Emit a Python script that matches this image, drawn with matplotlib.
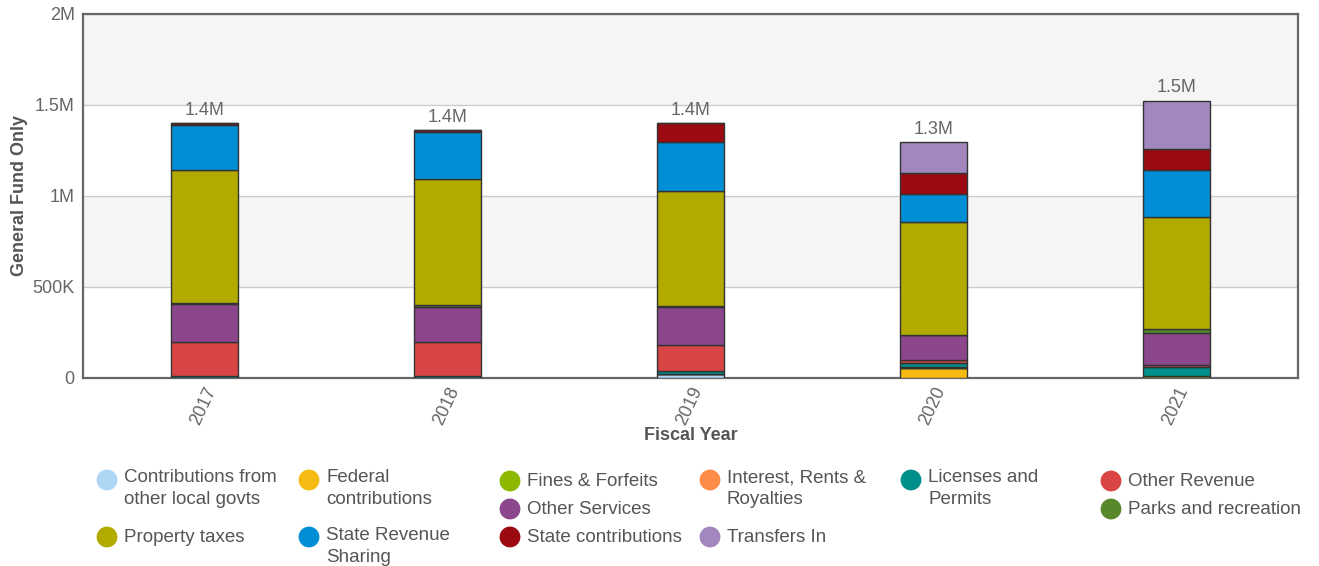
import matplotlib
matplotlib.use("Agg")
import matplotlib.pyplot as plt
import numpy as np

plt.rcParams["font.family"] = ["Liberation Sans", "DejaVu Sans"]

# ---- data -------------------------------------------------------------
years = ["2017", "2018", "2019", "2020", "2021"]

categories = [
    "Contributions from other local govts",
    "Federal contributions",
    "Fines & Forfeits",
    "Interest, Rents & Royalties",
    "Licenses and Permits",
    "Other Revenue",
    "Other Services",
    "Parks and recreation",
    "Property taxes",
    "State Revenue Sharing",
    "State contributions",
    "Transfers In",
]

colors = [
    "#aed6f5",  # Contributions from other local govts
    "#f6bb12",  # Federal contributions
    "#8cb800",  # Fines & Forfeits
    "#fd8c48",  # Interest, Rents & Royalties
    "#00908c",  # Licenses and Permits
    "#d94545",  # Other Revenue
    "#8c468c",  # Other Services
    "#58882a",  # Parks and recreation
    "#b3aa00",  # Property taxes
    "#008fd6",  # State Revenue Sharing
    "#9a0a10",  # State contributions
    "#a187bd",  # Transfers In
]

# values per category, one entry per fiscal year (dollars)
contributions_local = [0, 0, 22000, 0, 0]
federal_contrib     = [0, 0, 0, 52000, 0]
fines_forfeits      = [0, 0, 0, 0, 6000]
interest_rents      = [0, 0, 0, 6000, 0]
licenses_permits    = [8000, 8000, 13000, 22000, 50000]
other_revenue       = [187000, 187000, 146000, 18000, 13000]
other_services      = [209000, 193000, 209000, 136000, 178000]
parks_recreation    = [4000, 11000, 4000, 0, 19000]
property_taxes      = [734000, 693000, 632000, 619000, 618000]
state_rev_sharing   = [247000, 259000, 271000, 157000, 259000]
state_contrib       = [11000, 11000, 101000, 114000, 114000]
transfers_in        = [0, 0, 0, 173000, 267000]

series = [
    contributions_local, federal_contrib, fines_forfeits, interest_rents,
    licenses_permits, other_revenue, other_services, parks_recreation,
    property_taxes, state_rev_sharing, state_contrib, transfers_in,
]

y_ticks = [0, 500000, 1000000, 1500000, 2000000]
y_tick_labels = ["0", "500K", "1M", "1.5M", "2M"]

# ---- figure -----------------------------------------------------------
W, H = 1319, 566
fig = plt.figure(figsize=(W / 100, H / 100), dpi=100)

def px_box(left, top, right, bottom):
    return [left / W, 1 - bottom / H, (right - left) / W, (bottom - top) / H]

ax = fig.add_axes(px_box(83, 14, 1298, 377.5))

text_grey = "#666666"
label_grey = "#555555"

# alternating background bands
for lo, hi in [(500000, 1000000), (1500000, 2000000)]:
    ax.axhspan(lo, hi, color="#f5f5f5", zorder=0, lw=0)

x = np.arange(len(years))
bottom = np.zeros(len(years))
for vals, col in zip(series, colors):
    v = np.array(vals, dtype=float)
    ax.bar(x, v, bottom=bottom, width=0.276, color=col,
           edgecolor="#333333", linewidth=1.0, zorder=3)
    bottom += v

totals = bottom
for xi, t in zip(x, totals):
    ax.annotate(f"{t / 1e6:.1f}M", (xi, t), xytext=(0, 3),
                textcoords="offset points", ha="center", va="bottom",
                fontsize=13, color=text_grey, zorder=4)

ax.set_xlim(-0.5, 4.5)
ax.set_ylim(0, 2000000)
ax.set_yticks(y_ticks)
ax.set_yticklabels(y_tick_labels)
ax.set_xticks(x)
ax.set_xticklabels(years, rotation=65, ha="right", va="top",
                   rotation_mode="anchor")
ax.tick_params(axis="both", length=0, labelsize=13, labelcolor=text_grey)
ax.tick_params(axis="x", pad=5)
ax.tick_params(axis="y", pad=6)
ax.yaxis.grid(True, color="#cccccc", linewidth=1.0, zorder=1)
ax.set_axisbelow(True)
for sp in ax.spines.values():
    sp.set_color("#666666")
    sp.set_linewidth(1.6)

ax.set_ylabel("General Fund Only", fontsize=13, fontweight="bold",
              color=label_grey, labelpad=3)
ax.set_xlabel("Fiscal Year", fontsize=13, fontweight="bold",
              color=label_grey, labelpad=-1)

# ---- legend (drawn in pixel coordinates) -----------------------------
lg = fig.add_axes([0, 0, 1, 1])
lg.set_xlim(0, W)
lg.set_ylim(H, 0)
lg.axis("off")

legend_text = [
    "Contributions from\nother local govts",
    "Federal\ncontributions",
    "Fines & Forfeits",
    "Interest, Rents &\nRoyalties",
    "Licenses and\nPermits",
    "Other Revenue",
    "Other Services",
    "Parks and recreation",
    "Property taxes",
    "State Revenue\nSharing",
    "State contributions",
    "Transfers In",
]
legend_pos = [
    (107, 480), (309, 480), (510, 481), (710, 480), (911, 480), (1111, 481),
    (510, 509), (1111, 509),
    (107, 537), (309, 537), (510, 537), (710, 537),
]

for txt, col, (cx, cy) in zip(legend_text, colors, legend_pos):
    lg.scatter([cx], [cy], s=15.0 ** 2, color=col, edgecolors="none")
    lines = txt.split("\n")
    y0 = cy - 2 if len(lines) > 1 else cy
    for k, line in enumerate(lines):
        lg.text(cx + 17, y0 + 22 * k, line, ha="left", va="center",
                fontsize=13.5, color=label_grey)

fig.savefig("out.png", dpi=100)
